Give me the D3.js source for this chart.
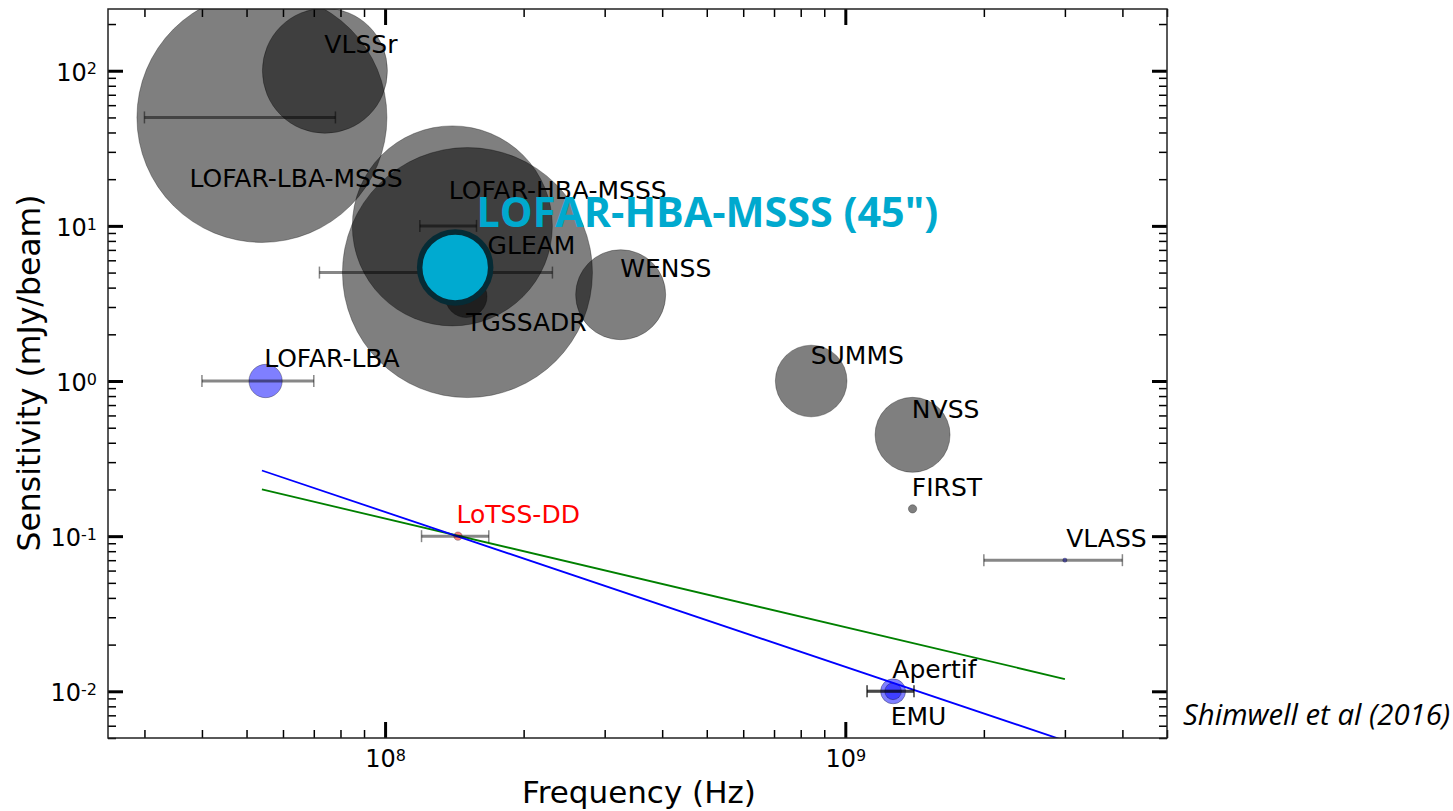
<!DOCTYPE html>
<html>
<head>
<meta charset="utf-8">
<script src="https://cdn.jsdelivr.net/npm/d3@7"></script>
<style>
  body { margin: 0; background: #fff; }
  text { font-family: "DejaVu Sans", sans-serif; }
</style>
</head>
<body>
<div id="chart"></div>
<script>
// surveys: centre frequency (MHz), sensitivity (mJy/beam), resolution (arcsec)
const surveys     = ["LOFAR-LBA-MSSS", "VLSSr", "LOFAR-HBA-MSSS", "GLEAM", "TGSSADR", "WENSS", "SUMMS", "NVSS", "FIRST", "VLASS", "LOFAR-LBA", "Apertif", "EMU", "LoTSS-DD"];
const freqMHz     = [54, 74, 140, 151, 150, 325, 843, 1400, 1400, 3000, 55, 1270, 1270, 144];
const sensitivity = [50, 100, 10, 5, 3.5, 3.6, 1.0, 0.45, 0.15, 0.07, 1.0, 0.01, 0.01, 0.1];
const resolution  = [150, 75, 120, 150, 25, 54, 43, 45, 5, 2.5, 20, 15, 10, 5];
const kind        = ["past", "past", "past", "past", "past", "past", "past", "past", "past", "future", "future", "future", "future", "dd"];
// frequency coverage (MHz), null = no bar
const bandLow     = [30, null, 119, 72, null, null, null, null, null, 2000, 40, 1115, 1115, 120];
const bandHigh    = [78, null, 158, 231, null, null, null, null, null, 4000, 70, 1410, 1410, 168];
// where the name is written, in data units
const labelFreq   = [37.6, 73.8, 137.5, 167, 150, 324.5, 841, 1395, 1395, 3020, 54.6, 1265, 1255, 143];
const labelSens   = [17.9, 129.5, 14.9, 6.54, 2.09, 4.69, 1.29, 0.58, 0.181, 0.085, 1.23, 0.0122, 0.0061, 0.121];

// the highlighted survey
const hbaName = "LOFAR-HBA-MSSS (45\")";
const hbaFreq = 142, hbaSens = 5.4, hbaRes = 45;
const hbaLabelFreq = 158, hbaLabelSens = 9.85;

// spectral lines through LoTSS-DD
const lineFreq  = [54, 3000];
const greenSens = [0.2, 0.012];
const blueSens  = [0.265, 0.0048];

const xMajor = [1e8, 1e9];
const yMajor = [1e-2, 1e-1, 1e0, 1e1, 1e2];

const colours = { past: "#000000", future: "#0000ff", dd: "#ff0000" };

const margin = { top: 9, right: 286, bottom: 73, left: 108 },
      width = 1453 - margin.left - margin.right,
      height = 811 - margin.top - margin.bottom;

const svgRoot = d3.select("#chart")
  .append("svg")
    .attr("width", 1453)
    .attr("height", 811);

const svg = svgRoot.append("g")
    .attr("transform", "translate(" + margin.left + "," + margin.top + ")");

const x = d3.scaleLog().domain([2.5e7, 5e9]).range([0, width]);
const y = d3.scaleLog().domain([0.005, 250]).range([height, 0]);
const size = d3.scaleLinear().domain([0, 150]).range([0, 125]);

const data = surveys.map((name, i) => ({
  name: name,
  freq: freqMHz[i] * 1e6,
  sens: sensitivity[i],
  res: resolution[i],
  kind: kind[i],
  lo: bandLow[i] == null ? null : bandLow[i] * 1e6,
  hi: bandHigh[i] == null ? null : bandHigh[i] * 1e6,
  lf: labelFreq[i] * 1e6,
  ls: labelSens[i]
}));

svg.append("defs").append("clipPath")
    .attr("id", "plotclip")
  .append("rect")
    .attr("width", width)
    .attr("height", height);

const plot = svg.append("g").attr("clip-path", "url(#plotclip)");

// survey circles
plot.append("g")
  .selectAll("circle")
  .data(data)
  .enter()
  .append("circle")
    .attr("cx", d => x(d.freq))
    .attr("cy", d => y(d.sens))
    .attr("r", d => size(d.res))
    .style("fill", d => colours[d.kind])
    .style("fill-opacity", 0.5)
    .style("stroke", "#000")
    .style("stroke-opacity", 0.3)
    .style("stroke-width", 1);

// spectral index lines
const line = d3.line()
  .x(d => x(d[0] * 1e6))
  .y(d => y(d[1]));

plot.append("path")
  .datum(lineFreq.map((f, i) => [f, greenSens[i]]))
  .attr("d", line)
  .attr("fill", "none")
  .attr("stroke", "#008000")
  .attr("stroke-width", 1.8);

plot.append("path")
  .datum(lineFreq.map((f, i) => [f, blueSens[i]]))
  .attr("d", line)
  .attr("fill", "none")
  .attr("stroke", "#0000ff")
  .attr("stroke-width", 1.8);

// frequency coverage bars
const bars = plot.append("g")
  .selectAll("g")
  .data(data.filter(d => d.lo != null))
  .enter()
  .append("g")
    .attr("stroke", "#000")
    .attr("stroke-opacity", 0.47);

bars.append("line")
  .attr("x1", d => x(d.lo))
  .attr("x2", d => x(d.hi))
  .attr("y1", d => y(d.sens))
  .attr("y2", d => y(d.sens))
  .attr("stroke-width", 3);

bars.selectAll(".cap")
  .data(d => [[d.lo, d.sens], [d.hi, d.sens]])
  .enter()
  .append("line")
    .attr("class", "cap")
    .attr("x1", d => x(d[0]))
    .attr("x2", d => x(d[0]))
    .attr("y1", d => y(d[1]) - 6)
    .attr("y2", d => y(d[1]) + 6)
    .attr("stroke-width", 1.5);

// highlighted survey
plot.append("circle")
  .attr("cx", x(hbaFreq * 1e6))
  .attr("cy", y(hbaSens))
  .attr("r", size(hbaRes) - 2)
  .style("fill", "#00aad0")
  .style("stroke", "#062b35")
  .style("stroke-width", 5.5);

// names
svg.append("g")
  .selectAll("text")
  .data(data)
  .enter()
  .append("text")
    .attr("x", d => x(d.lf))
    .attr("y", d => y(d.ls))
    .attr("font-size", 25)
    .attr("fill", d => d.kind === "dd" ? "#ff0000" : "#000")
    .text(d => d.name);

svg.append("text")
  .attr("x", x(hbaLabelFreq * 1e6))
  .attr("y", y(hbaLabelSens))
  .style("font-family", "'Open Sans', sans-serif")
  .style("font-weight", 700)
  .attr("font-size", 41.3)
  .attr("fill", "#00a9ce")
  .text(hbaName);

// axes
const yMinor = y.ticks().filter(v => yMajor.every(m => Math.abs(v / m - 1) > 1e-6));
const xMinor = x.ticks().filter(v => xMajor.every(m => Math.abs(v / m - 1) > 1e-6));

function powerLabels(g, dy) {
  g.selectAll(".tick text").each(function(d) {
    const t = d3.select(this);
    t.text(null).attr("dy", dy).attr("font-size", 24).attr("fill", "#000");
    t.append("tspan").text("10");
    t.append("tspan").attr("dy", "-0.4em").attr("font-size", 16)
      .text(Math.round(Math.log10(d)));
  });
}

function styleAxis(g, w) {
  g.select(".domain").remove();
  g.selectAll(".tick line").attr("stroke", "#000").attr("stroke-width", w);
}

svg.append("g")
  .call(d3.axisLeft(y).tickValues(yMajor).tickSizeInner(-15).tickSizeOuter(0).tickPadding(11))
  .call(g => styleAxis(g, 3))
  .call(g => powerLabels(g, "0.4em"));

svg.append("g")
  .call(d3.axisLeft(y).tickValues(yMinor).tickSize(-8).tickFormat(""))
  .call(g => styleAxis(g, 1.5));

svg.append("g")
  .attr("transform", "translate(" + width + ",0)")
  .call(d3.axisRight(y).tickValues(yMajor).tickSize(-15).tickFormat(""))
  .call(g => styleAxis(g, 3));

svg.append("g")
  .attr("transform", "translate(" + width + ",0)")
  .call(d3.axisRight(y).tickValues(yMinor).tickSize(-8).tickFormat(""))
  .call(g => styleAxis(g, 1.5));

svg.append("g")
  .attr("transform", "translate(0," + height + ")")
  .call(d3.axisBottom(x).tickValues(xMajor).tickSizeInner(-16).tickSizeOuter(0).tickPadding(12))
  .call(g => styleAxis(g, 3))
  .call(g => powerLabels(g, "0.71em"));

svg.append("g")
  .attr("transform", "translate(0," + height + ")")
  .call(d3.axisBottom(x).tickValues(xMinor).tickSize(-8).tickFormat(""))
  .call(g => styleAxis(g, 1.5));

svg.append("g")
  .call(d3.axisTop(x).tickValues(xMajor).tickSize(-16).tickFormat(""))
  .call(g => styleAxis(g, 3));

svg.append("g")
  .call(d3.axisTop(x).tickValues(xMinor).tickSize(-8).tickFormat(""))
  .call(g => styleAxis(g, 1.5));

svg.append("rect")
  .attr("width", width)
  .attr("height", height)
  .attr("fill", "none")
  .attr("stroke", "#222")
  .attr("stroke-width", 1.5);

// axis titles
svgRoot.append("text")
  .attr("x", 639)
  .attr("y", 803)
  .attr("text-anchor", "middle")
  .attr("font-size", 31)
  .text("Frequency (Hz)");

svgRoot.append("text")
  .attr("transform", "rotate(-90)")
  .attr("x", -373)
  .attr("y", 40)
  .attr("text-anchor", "middle")
  .attr("font-size", 31.5)
  .text("Sensitivity (mJy/beam)");

svgRoot.append("text")
  .attr("x", 1183)
  .attr("y", 725)
  .style("font-family", "'Open Sans', sans-serif")
  .style("font-style", "italic")
  .attr("font-size", 29.3)
  .text("Shimwell et al (2016)");
</script>
</body>
</html>
